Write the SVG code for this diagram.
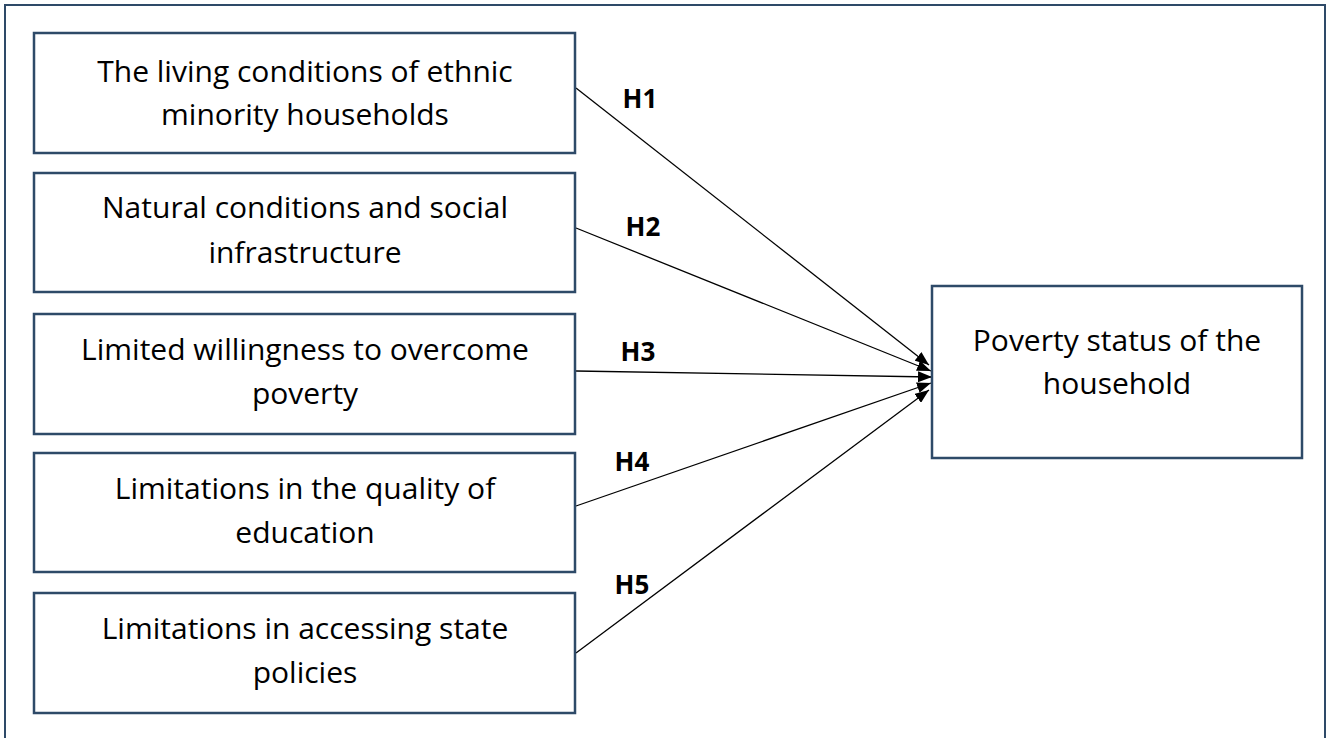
<svg xmlns="http://www.w3.org/2000/svg" width="1330" height="738" viewBox="0 0 1330 738">
<style>
.box{fill:#fff;stroke:#2E4A68;stroke-width:2.5}
.t{font-family:"Open Sans","Liberation Sans",sans-serif;font-size:30px;fill:#000;text-anchor:middle;font-variant-ligatures:none}
.h{font-family:"Open Sans","Liberation Sans",sans-serif;font-size:26px;font-weight:bold;fill:#000;text-anchor:middle}
.ln{stroke:#000;stroke-width:1.3;fill:none;marker-end:url(#ah)}
</style>
<defs>
<marker id="ah" viewBox="0 0 14 11" refX="14" refY="5.5" markerWidth="14" markerHeight="11" markerUnits="userSpaceOnUse" orient="auto">
<path d="M0,0 L14,5.5 L0,11 Z" fill="#000"/>
</marker>
</defs>
<rect width="1330" height="738" fill="#fff"/>
<path d="M5,740 V5 H1325 V740" fill="none" stroke="#2E4A68" stroke-width="2"/>
<g id="connectors">
<line class="ln" x1="576" y1="88" x2="929" y2="365"/>
<line class="ln" x1="576" y1="228" x2="931" y2="371"/>
<line class="ln" x1="576" y1="371" x2="932" y2="377"/>
<line class="ln" x1="576" y1="506" x2="931" y2="383"/>
<line class="ln" x1="576" y1="653" x2="929" y2="390"/>
<text class="h" x="640" y="108">H1</text>
<text class="h" x="643" y="236">H2</text>
<text class="h" x="638" y="361">H3</text>
<text class="h" x="632" y="471">H4</text>
<text class="h" x="632" y="594">H5</text>
</g>
<g id="n1">
<rect class="box" x="34" y="33" width="541" height="120"/>
<text class="t" x="305" y="82">The living conditions of ethnic</text>
<text class="t" x="305" y="125">minority households</text>
</g>
<g id="n2">
<rect class="box" x="34" y="173" width="541" height="119"/>
<text class="t" x="305" y="218">Natural conditions and social</text>
<text class="t" x="305" y="263">infrastructure</text>
</g>
<g id="n3">
<rect class="box" x="34" y="314" width="541" height="120"/>
<text class="t" x="305" y="360">Limited willingness to overcome</text>
<text class="t" x="305" y="404">poverty</text>
</g>
<g id="n4">
<rect class="box" x="34" y="453" width="541" height="119"/>
<text class="t" x="305" y="499">Limitations in the quality of</text>
<text class="t" x="305" y="543">education</text>
</g>
<g id="n5">
<rect class="box" x="34" y="593" width="541" height="120"/>
<text class="t" x="305" y="639">Limitations in accessing state</text>
<text class="t" x="305" y="683">policies</text>
</g>
<g id="n6">
<rect class="box" x="932" y="286" width="370" height="172"/>
<text class="t" x="1117" y="351">Poverty status of the</text>
<text class="t" x="1117" y="394">household</text>
</g>
</svg>
